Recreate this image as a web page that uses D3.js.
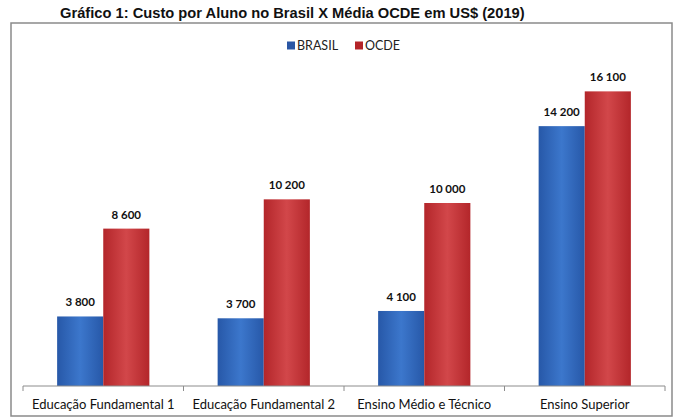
<!DOCTYPE html>
<html><head><meta charset="utf-8">
<script src="https://cdn.jsdelivr.net/npm/d3@7"></script>
<style>body{margin:0;background:#fff}svg{display:block}</style>
</head><body>
<svg id="c" width="680" height="420"></svg>
<script>
const categories = ["Educação Fundamental 1","Educação Fundamental 2","Ensino Médio e Técnico","Ensino Superior"];
const seriesNames = ["BRASIL","OCDE"];
const brasil = [3800, 3700, 4100, 14200];
const ocde = [8600, 10200, 10000, 16100];
const valueLabels = {BRASIL:["3 800","3 700","4 100","14 200"], OCDE:["8 600","10 200","10 000","16 100"]};

const svg = d3.select("#c");
const defs = svg.append("defs");
function grad(id, edge, mid){
  const g = defs.append("linearGradient").attr("id",id).attr("x1","0").attr("x2","1").attr("y1","0").attr("y2","0");
  g.append("stop").attr("offset","0%").attr("stop-color",edge);
  g.append("stop").attr("offset","50%").attr("stop-color",mid);
  g.append("stop").attr("offset","100%").attr("stop-color",edge);
}
grad("gB","#2758a8","#3c77cc");
grad("gR","#b3262a","#d2474a");
const fills = {BRASIL:"url(#gB)", OCDE:"url(#gR)"};
const legendColors = {BRASIL:"#2a56a4", OCDE:"#b42428"};

// title
svg.append("text").attr("x",60).attr("y",18).attr("font-family","Liberation Sans, Arial, sans-serif")
  .attr("font-weight","bold").attr("font-size",14.7).attr("fill","#111")
  .text("Gráfico 1: Custo por Aluno no Brasil X Média OCDE em US$ (2019)");

// outer frame
svg.append("rect").attr("x",11).attr("y",23).attr("width",661).attr("height",393)
  .attr("fill","#fff").attr("stroke","#8a8a8a").attr("stroke-width",1.5);

const x0 = d3.scaleBand().domain(categories).range([23,665]).paddingInner(0).paddingOuter(0);
const x1 = d3.scaleBand().domain(seriesNames).range([0, x0.bandwidth()]).paddingInner(0).paddingOuter(0.74);
const y = d3.scaleLinear().domain([0,18000]).range([386,56.6]);

const data = categories.map((c,i)=>({cat:c, vals:[{s:"BRASIL",v:brasil[i],lab:valueLabels.BRASIL[i]},{s:"OCDE",v:ocde[i],lab:valueLabels.OCDE[i]}]}));

const g = svg.append("g");
const groups = g.selectAll("g.cat").data(data).join("g").attr("transform",d=>`translate(${x0(d.cat)},0)`);
groups.selectAll("rect").data(d=>d.vals).join("rect")
  .attr("x",d=>x1(d.s)).attr("width",x1.bandwidth())
  .attr("y",d=>y(d.v)).attr("height",d=>y(0)-y(d.v)).attr("fill",d=>fills[d.s]);
groups.selectAll("text.v").data(d=>d.vals).join("text").attr("class","v")
  .attr("x",d=>x1(d.s)+x1.bandwidth()/2).attr("y",d=>y(d.v)-10)
  .attr("text-anchor","middle").attr("font-family","Lato, Open Sans, sans-serif").attr("font-weight","bold")
  .attr("font-size",11.5).attr("fill","#111").text(d=>d.lab);

// axis
const ax = svg.append("g").attr("transform","translate(0,386)")
  .call(d3.axisBottom(x0).tickSize(0).tickPadding(14));
ax.select(".domain").attr("stroke","#8c8c8c").attr("d","M23,0H665");
ax.selectAll(".tick text").attr("font-family","Lato, Open Sans, sans-serif").attr("font-size",13).attr("fill","#111");
const edges = categories.map(c=>x0(c)).concat([x0.range()[1]]);
ax.selectAll("line.edge").data(edges).join("line").attr("class","edge")
  .attr("x1",d=>d).attr("x2",d=>d).attr("y1",0).attr("y2",5).attr("stroke","#8c8c8c");

// legend
const lg = svg.append("g").attr("transform","translate(287,45.5)");
const items = lg.selectAll("g").data(seriesNames).join("g").attr("transform",(d,i)=>`translate(${i*68},0)`);
items.append("rect").attr("x",0).attr("y",-4).attr("width",8).attr("height",8).attr("fill",d=>legendColors[d]);
items.append("text").attr("x",10).attr("y",0).attr("dy","0.35em").attr("font-family","Lato, Open Sans, sans-serif")
  .attr("font-size",12.5).attr("fill","#222").text(d=>d);
</script>
</body></html>
